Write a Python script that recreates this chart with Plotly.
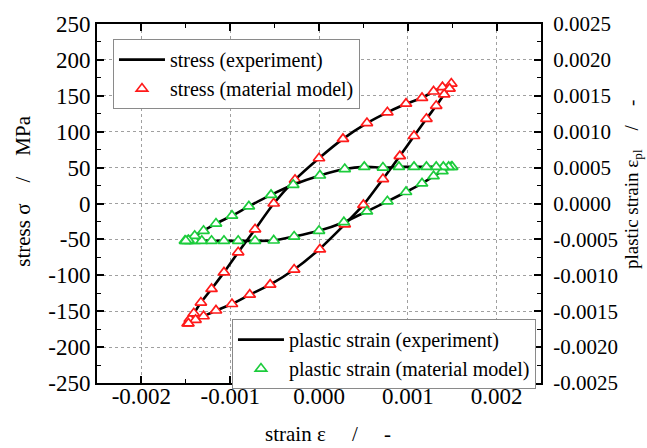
import plotly.graph_objects as go

# ---------------- data ----------------
# stress, experiment (loading branch, unloading branch)
exp_load_strain = [-0.00150, -0.00146, -0.00141, -0.00133, -0.00121, -0.00107, -0.00091, -0.00072,
                   -0.00051, -0.00027, 0.00000, 0.00027, 0.00054, 0.00077, 0.00098, 0.00116,
                   0.00129, 0.00139, 0.00149]
exp_load_stress = [-167, -161, -153, -138, -119, -96, -68, -36, 0, 33, 63, 90, 112, 127, 139, 147,
                   156, 162, 167]
exp_unload_strain = [0.00149, 0.00147, 0.00141, 0.00132, 0.00121, 0.00107, 0.00091, 0.00072,
                     0.00050, 0.00029, 0.00000, -0.00028, -0.00055, -0.00078, -0.00098, -0.00116,
                     -0.00130, -0.00139, -0.00148]
exp_unload_stress = [167, 160, 152, 136, 118, 94, 66, 34, -2, -29, -64, -92, -113, -127, -140, -149,
                     -157, -162, -167]

# stress, material model
mod_strain = [-0.00148, -0.001455, -0.00141, -0.00133, -0.00121, -0.00107, -0.00091, -0.00072,
              -0.00051, -0.00027, 0.00000, 0.00027, 0.00054, 0.00077, 0.00098, 0.00116, 0.00129,
              0.00139, 0.00149,
              0.00147, 0.00141, 0.00132, 0.00121, 0.00107, 0.00091, 0.00072, 0.00050, 0.00029,
              0.00001, -0.00028, -0.00055, -0.00078, -0.00098, -0.00116, -0.00130, -0.00139, -0.00147]
mod_stress = [-167, -161, -153, -138, -119, -96, -68, -36, 0, 33, 63, 90, 112, 127, 139, 147, 156,
              162, 167,
              160, 152, 136, 118, 94, 66, 34, -2, -29, -64, -92, -113, -127, -140, -149, -157, -162, -167]

# plastic strain, experiment
pexp_load_strain = [-0.00151, -0.00140, -0.00121, -0.00107, -0.00091, -0.00072, -0.00051, -0.00028,
                    0.00000, 0.00028, 0.00054, 0.00077, 0.00098, 0.00116, 0.00129, 0.00139, 0.00150]
pexp_load_pl = [-0.00052, -0.00052, -0.00052, -0.00052, -0.00052, -0.00052, -0.000515, -0.00046,
                -0.00038, -0.00026, -0.00011, 0.00003, 0.00016, 0.00028, 0.00038, 0.00045, 0.00051]
pexp_unload_strain = [0.00150, 0.00140, 0.00121, 0.00107, 0.00090, 0.00072, 0.00051, 0.00029,
                      0.00001, -0.00029, -0.00054, -0.00079, -0.00098, -0.00116, -0.00130, -0.00140,
                      -0.00147, -0.00151]
pexp_unload_pl = [0.00051, 0.00051, 0.00051, 0.00051, 0.00051, 0.00050, 0.00051, 0.00048,
                  0.00039, 0.00026, 0.00012, -0.00004, -0.00017, -0.00028, -0.00038, -0.00045,
                  -0.00051, -0.00052]

# plastic strain, material model
pmod_strain = [-0.00151, -0.00148, -0.00145, -0.00140, -0.00132, -0.00121, -0.00107, -0.00091,
               -0.00072, -0.00051, -0.00028, 0.00000, 0.00028, 0.00054, 0.00077, 0.00098, 0.00116,
               0.00129, 0.00139, 0.00149,
               0.00150, 0.00146, 0.00140, 0.00132, 0.00121, 0.00107, 0.00090, 0.00072, 0.00051,
               0.00029, 0.00001, -0.00029, -0.00054, -0.00079, -0.00098, -0.00116, -0.00130,
               -0.00140, -0.00147, -0.00150]
pmod_pl = [-0.00052, -0.00052, -0.00052, -0.00052, -0.00052, -0.00052, -0.00052, -0.00052,
           -0.00052, -0.000515, -0.00046, -0.00038, -0.00026, -0.00011, 0.00003, 0.00016, 0.00028,
           0.00038, 0.00045, 0.00051,
           0.00051, 0.00051, 0.00051, 0.00051, 0.00051, 0.00051, 0.00051, 0.00050, 0.00051,
           0.00048, 0.00039, 0.00026, 0.00012, -0.00004, -0.00017, -0.00028, -0.00038,
           -0.00045, -0.00051, -0.00052]

x_ticks = [-0.002, -0.001, 0.0, 0.001, 0.002]
x_labels = ["-0.002", "-0.001", "0.000", "0.001", "0.002"]
y_ticks = [250, 200, 150, 100, 50, 0, -50, -100, -150, -200, -250]
y_labels = ["250", "200", "150", "100", "50", "0", "-50", "-100", "-150", "-200", "-250"]
y2_ticks = [0.0025, 0.0020, 0.0015, 0.0010, 0.0005, 0.0, -0.0005, -0.0010, -0.0015, -0.0020, -0.0025]
y2_labels = ["0.0025", "0.0020", "0.0015", "0.0010", "0.0005", "0.0000", "-0.0005", "-0.0010",
             "-0.0015", "-0.0020", "-0.0025"]

# ---------------- figure ----------------
FONT = "Liberation Serif"
RED = "#ff1a1a"
GREEN = "#1ccc3c"
SP5 = "\u00a0" * 5
SP4 = "\u00a0" * 4

fig = go.Figure()

line_style = dict(color="black", width=2.6, shape="spline", smoothing=0.5)

fig.add_trace(go.Scatter(x=exp_load_strain, y=exp_load_stress, mode="lines", line=line_style,
                         name="stress (experiment)", legend="legend", showlegend=True))
fig.add_trace(go.Scatter(x=exp_unload_strain, y=exp_unload_stress, mode="lines", line=line_style,
                         name="stress (experiment)", legend="legend", showlegend=False))
fig.add_trace(go.Scatter(x=pexp_load_strain, y=pexp_load_pl, mode="lines", yaxis="y2", line=line_style,
                         name="plastic strain (experiment)", legend="legend2", showlegend=True))
fig.add_trace(go.Scatter(x=pexp_unload_strain, y=pexp_unload_pl, mode="lines", yaxis="y2", line=line_style,
                         name="plastic strain (experiment)", legend="legend2", showlegend=False))
fig.add_trace(go.Scatter(x=mod_strain, y=mod_stress, mode="markers",
                         marker=dict(symbol="triangle-up", size=10, color="white",
                                     line=dict(color=RED, width=1.7)),
                         name="stress (material model)", legend="legend"))
fig.add_trace(go.Scatter(x=pmod_strain, y=pmod_pl, mode="markers", yaxis="y2",
                         marker=dict(symbol="triangle-up", size=10, color="white",
                                     line=dict(color=GREEN, width=1.7)),
                         name="plastic strain (material model)", legend="legend2"))

axis_common = dict(
    showline=True, linecolor="black", linewidth=2,
    ticks="inside", ticklen=7, tickwidth=1.5, tickcolor="black",
    zeroline=False,
)

fig.update_layout(
    width=647, height=448,
    margin=dict(l=97, r=106, t=24, b=65),
    paper_bgcolor="white", plot_bgcolor="white",
    font=dict(family=FONT, color="black"),
    xaxis=dict(range=[-0.0025, 0.0025], tickvals=x_ticks, ticktext=x_labels,
               showgrid=True, gridcolor="#a0a0a0", gridwidth=1, griddash="dot",
               mirror="ticks", ticklabelstandoff=-9,
               tickfont=dict(family=FONT, size=23, color="black"),
               minor=dict(ticks="inside", ticklen=4, tickwidth=1.2, tickcolor="black",
                          dtick=0.0005, tick0=0, showgrid=False),
               **axis_common),
    yaxis=dict(range=[-250, 250], tickvals=y_ticks, ticktext=y_labels,
               showgrid=True, gridcolor="#a0a0a0", gridwidth=1, griddash="dot",
               tickfont=dict(family=FONT, size=23, color="black"),
               minor=dict(ticks="inside", ticklen=4, tickwidth=1.2, tickcolor="black",
                          dtick=25, tick0=0, showgrid=False),
               **axis_common),
    yaxis2=dict(range=[-0.0025, 0.0025], tickvals=y2_ticks, ticktext=y2_labels,
                overlaying="y", side="right", showgrid=False,
                ticklabelstandoff=6,
                tickfont=dict(family=FONT, size=21, color="black"),
                minor=dict(ticks="inside", ticklen=4, tickwidth=1.2, tickcolor="black",
                           dtick=0.00025, tick0=0, showgrid=False),
                **axis_common),
    legend=dict(x=0.036, y=0.958, xanchor="left", yanchor="top",
                bgcolor="white", bordercolor="#8a8a8a", borderwidth=1, itemwidth=46,
                font=dict(family=FONT, size=20, color="black"), tracegroupgap=0),
    legend2=dict(x=0.304, y=0.178, xanchor="left", yanchor="top",
                 bgcolor="white", bordercolor="#8a8a8a", borderwidth=1, itemwidth=46,
                 font=dict(family=FONT, size=20, color="black"), tracegroupgap=0),
    annotations=[
        dict(text="strain ε" + SP5 + "/" + SP5 + "-", xref="paper", yref="paper",
             x=0.52, y=-0.142, xanchor="center", yanchor="middle", showarrow=False,
             font=dict(family=FONT, size=21, color="black")),
        dict(text="stress σ" + SP4 + "/" + SP4 + "MPa", xref="paper", yref="paper",
             x=-0.167, y=0.535, xanchor="center", yanchor="middle", showarrow=False,
             textangle=-90, font=dict(family=FONT, size=21, color="black")),
        dict(text="plastic strain ε<sub>pl</sub>" + SP4 + "/" + SP4 + "-", xref="paper", yref="paper",
             x=1.207, y=0.554, xanchor="center", yanchor="middle", showarrow=False,
             textangle=-90, font=dict(family=FONT, size=19, color="black")),
    ],
)

fig.write_html("out.html")
